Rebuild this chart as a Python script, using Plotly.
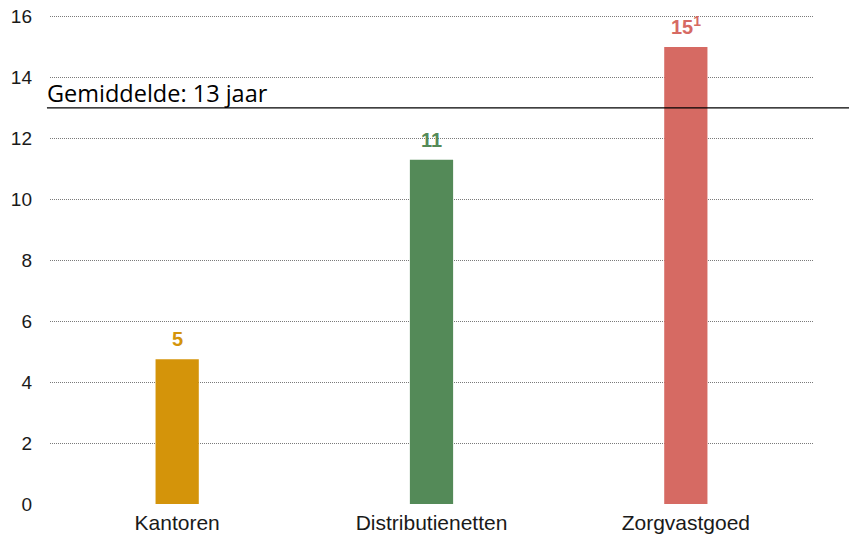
import plotly.graph_objects as go

categories = ["Kantoren", "Distributienetten", "Zorgvastgoed"]
values = [4.75, 11.3, 15.0]
value_labels = ["5", "11", "15<sup>1</sup>"]
bar_colors = ["#D4940A", "#548A58", "#D66A63"]
average_value = 13
average_label = "Gemiddelde: 13 jaar"
y_ticks = [0, 2, 4, 6, 8, 10, 12, 14, 16]

fig = go.Figure()
fig.add_trace(go.Bar(
    x=categories, y=values, marker=dict(color=bar_colors, line=dict(width=0)),
    width=0.17, hoverinfo="skip", showlegend=False,
))

for c, v, lab, col in zip(categories, values, value_labels, bar_colors):
    fig.add_annotation(x=c, y=v, text=lab, showarrow=False, yanchor="bottom",
                       yshift=7, font=dict(family="Liberation Sans, Arial", size=20, color=col,
                                           weight="bold"))

fig.add_shape(type="line", xref="paper", yref="y", x0=-0.004, x1=1.08,
              y0=average_value, y1=average_value, line=dict(color="black", width=1.2))
fig.add_annotation(xref="paper", yref="y", x=-0.006, y=average_value, text=average_label,
                   showarrow=False, xanchor="left", yanchor="bottom", yshift=-3,
                   font=dict(family="Open Sans", size=23.5, color="black"))

fig.update_layout(
    width=857, height=542,
    margin=dict(l=42, r=52, t=0, b=46),
    paper_bgcolor="white", plot_bgcolor="white",
    font=dict(family="Liberation Sans, Arial", size=21, color="#1a1a1a"),
    bargap=0.83,
)
fig.update_xaxes(showgrid=False, showline=False, zeroline=False, ticks="", automargin=False,
                 ticklabelstandoff=4, tickfont=dict(size=21, color="#1a1a1a"))
fig.update_yaxes(range=[0, 16.28], tickvals=y_ticks, showgrid=True, gridcolor="#7a7a7a",
                 griddash="1px,1px", gridwidth=1, zeroline=False, showline=False, ticks="",
                 automargin=False, ticklabelstandoff=17, ticklabeloverflow="allow",
                 tickfont=dict(size=19, color="#1a1a1a"))

fig.write_html("out.html")
